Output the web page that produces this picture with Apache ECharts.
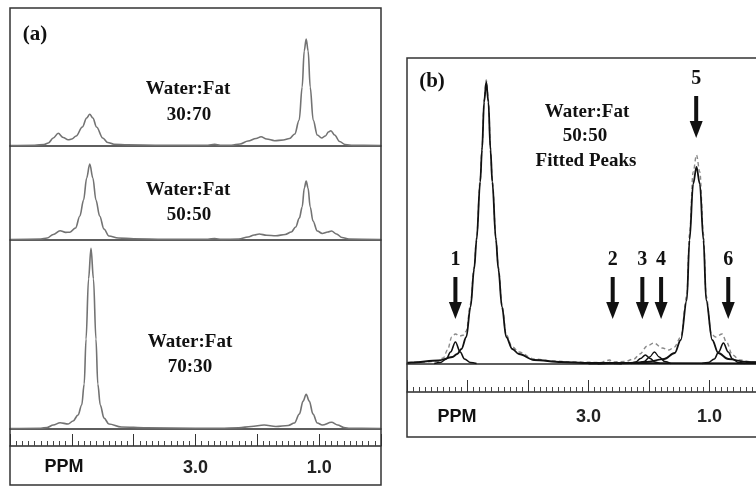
<!DOCTYPE html>
<html>
<head>
<meta charset="utf-8">
<script src="https://cdn.jsdelivr.net/npm/echarts@6/dist/echarts.min.js"></script>
<style>
  html, body { margin: 0; padding: 0; background: #fff; }
  #main { width: 756px; height: 487px; }
</style>
</head>
<body>
<div id="main"></div>
<script>
// spectra as [ppm, signal]; signal in arbitrary units above baseline
const spec3070 = [[6.0, 0.5], [5.6, 0.8], [5.45, 1.5], [5.38, 3], [5.3, 8], [5.22, 12.7], [5.14, 8.5], [5.06, 6.2], [5.0, 7], [4.93, 10], [4.83, 19], [4.76, 28], [4.71, 31.7], [4.66, 28], [4.6, 19], [4.5, 8], [4.42, 3.5], [4.32, 1.8], [4.1, 1.1], [3.6, 0.8], [3.0, 0.6], [2.8, 0.8], [2.69, 1.6], [2.6, 0.7], [2.42, 0.8], [2.28, 2], [2.15, 5], [2.02, 7.5], [1.94, 9.3], [1.85, 7], [1.72, 5.3], [1.58, 6], [1.48, 7.5], [1.395, 12], [1.323, 26], [1.275, 59], [1.242, 95], [1.21, 107], [1.178, 95], [1.145, 59], [1.097, 26], [1.03, 11], [0.96, 8], [0.9, 10], [0.85, 14], [0.81, 15.3], [0.75, 11], [0.67, 4.5], [0.58, 1.5], [0.45, 0.6], [0.0, 0.5]];
const spec5050 = [[6.0, 0.5], [5.5, 1], [5.4, 2], [5.3, 5.5], [5.19, 9.3], [5.1, 7.6], [5.03, 7.8], [4.94, 12], [4.87, 24], [4.81, 40], [4.76, 62], [4.71, 76], [4.66, 62], [4.61, 40], [4.55, 24], [4.48, 11], [4.4, 4], [4.25, 2], [4.0, 1.2], [3.5, 0.8], [2.8, 0.8], [2.69, 1.4], [2.58, 0.6], [2.3, 0.9], [2.15, 3], [2.05, 5], [1.97, 6], [1.85, 4.8], [1.7, 4.2], [1.55, 5.5], [1.45, 8], [1.38, 13], [1.32, 22], [1.275, 33], [1.24, 52], [1.21, 59], [1.18, 52], [1.145, 33], [1.1, 19], [1.03, 9], [0.95, 6.5], [0.86, 8], [0.8, 9], [0.72, 6], [0.63, 2.5], [0.52, 1], [0.0, 0.5]];
const spec7030 = [[6.0, 0.5], [5.5, 0.8], [5.4, 1.5], [5.3, 4], [5.19, 6.3], [5.06, 5], [4.98, 8], [4.9, 14], [4.84, 24], [4.8, 45], [4.77, 90], [4.73, 150], [4.69, 180.7], [4.65, 150], [4.61, 90], [4.58, 45], [4.54, 24], [4.48, 11], [4.4, 5], [4.2, 2], [3.8, 1.2], [3.0, 0.8], [2.6, 0.8], [2.3, 1.2], [2.1, 2.5], [1.89, 4], [1.7, 2.5], [1.5, 3.5], [1.4, 6], [1.32, 15], [1.26, 28], [1.21, 34.7], [1.16, 28], [1.1, 15], [1.03, 6], [0.95, 4], [0.8, 6.7], [0.7, 4], [0.6, 1.5], [0.5, 0.6], [0.0, 0.5]];

// panel (b): measured 50:50 spectrum and the fitted peaks
const measured = [[6.0, 1.5], [5.7, 2], [5.5, 3], [5.4, 6], [5.33, 14], [5.26, 27], [5.2, 30], [5.13, 28], [5.06, 29], [5.02, 33], [4.95, 60], [4.89, 97], [4.85, 126], [4.79, 184], [4.76, 216], [4.725, 264], [4.69, 284], [4.655, 264], [4.62, 216], [4.59, 184], [4.53, 126], [4.49, 97], [4.43, 59], [4.36, 29], [4.26, 17], [4.15, 12], [3.9, 5], [3.6, 3], [3.2, 2], [2.8, 1.5], [2.7, 3.5], [2.65, 4], [2.6, 2], [2.4, 2.5], [2.25, 5], [2.15, 10], [2.03, 18], [1.92, 21], [1.78, 16], [1.67, 14], [1.58, 17], [1.475, 27], [1.375, 68], [1.33, 130], [1.27, 192], [1.215, 209], [1.16, 192], [1.1, 130], [1.055, 68], [0.97, 30], [0.9, 27], [0.79, 30], [0.72, 22], [0.62, 9], [0.5, 4], [0.3, 2], [0.0, 1.5]];
const fitWater = [[6.0, 1], [5.93, 1.5], [5.48, 3.5], [5.25, 7], [5.17, 10], [5.1, 15], [5.02, 27], [4.95, 57], [4.89, 95], [4.85, 124], [4.79, 182], [4.76, 214], [4.725, 262], [4.69, 282], [4.655, 262], [4.62, 214], [4.59, 182], [4.53, 124], [4.49, 95], [4.43, 57], [4.36, 27], [4.26, 15], [4.15, 10], [3.9, 4], [3.45, 2], [3.0, 1], [0.0, 0.5]];
const fitPeak1 = [[5.55, 0.5], [5.45, 1.5], [5.35, 5], [5.28, 12], [5.2, 22], [5.12, 12], [5.05, 5], [4.95, 1.5], [4.85, 0.5]];
const fitPeak2 = [[2.85, 0], [2.75, 0.5], [2.65, 1.5], [2.55, 0.5], [2.45, 0]];
const fitPeak3 = [[2.3, 0.3], [2.22, 2], [2.14, 5.5], [2.06, 9], [1.98, 5.5], [1.9, 2], [1.82, 0.3]];
const fitPeak4 = [[2.18, 0.3], [2.08, 2.5], [1.99, 7], [1.91, 12], [1.83, 7], [1.74, 2.5], [1.64, 0.3]];
const fitPeak5 = [[3.0, 0.5], [2.3, 1], [2.05, 2], [1.75, 5], [1.575, 11], [1.475, 24], [1.375, 64], [1.33, 124], [1.27, 180], [1.215, 197], [1.16, 180], [1.1, 124], [1.055, 64], [0.955, 24], [0.855, 11], [0.69, 5], [0.385, 2], [0.0, 1]];
const fitPeak6 = [[1.12, 0.5], [1.02, 1.5], [0.92, 5], [0.85, 12], [0.77, 21], [0.69, 12], [0.62, 5], [0.52, 1.5], [0.42, 0.5]];

const arrowNames = ['1', '2', '3', '4', '5', '6'];
const arrowPpm = [5.20, 2.60, 2.11, 1.80, 1.22, 0.69];
const arrowTip = [45, 45, 45, 45, 226, 45];

const labelledPpm = [3, 1];

const serif = '"Liberation Serif", "Times New Roman", serif';
const sans = '"Liberation Sans", Arial, sans-serif';

const chart = echarts.init(document.getElementById('main'));

const grids = [
  { left: 10, top: 8, width: 371, height: 138 },
  { left: 10, top: 146, width: 371, height: 94 },
  { left: 10, top: 240, width: 371, height: 189 },
  { left: 10, top: 429, width: 371, height: 17 },
  { left: 407, top: 58, width: 363, height: 306 },
  { left: 407, top: 364, width: 363, height: 28 }
];
const yMax = [138, 94, 189, 1, 306, 1];
const scaleGrid = [3, 5];

const xAxes = grids.map((g, i) => {
  const isScale = scaleGrid.includes(i);
  return {
    type: 'value', gridIndex: i, min: 0, max: 6, interval: 1, inverse: true,
    axisLine: { show: true, onZero: false, lineStyle: { color: '#2a2a2a', width: 1.5 } },
    axisTick: { show: isScale, inside: true, length: 12, lineStyle: { color: '#333', width: 1 } },
    minorTick: { show: isScale, splitNumber: 10, length: 5, lineStyle: { color: '#444', width: 1 } },
    axisLabel: {
      show: isScale, margin: i === 3 ? 13 : 16, color: '#222', fontSize: 18, fontWeight: 'bold', fontFamily: sans,
      formatter: v => labelledPpm.includes(v) ? v.toFixed(1) : ''
    },
    splitLine: { show: false }
  };
});
const yAxes = grids.map((g, i) => ({ type: 'value', gridIndex: i, min: 0, max: yMax[i], show: false }));

function spectrum(data, idx, color, width, dashed, z) {
  return {
    type: 'line', data: data, xAxisIndex: idx, yAxisIndex: idx,
    showSymbol: false, smooth: 0.35, smoothMonotone: 'x', silent: true, z: z || 2,
    lineStyle: { color: color, width: width, type: dashed ? [4, 3] : 'solid' }
  };
}

function renderArrow(params, api) {
  const tip = api.coord([api.value(0), api.value(1)]);
  const x = tip[0], y = tip[1];
  return {
    type: 'group',
    children: [
      { type: 'rect', shape: { x: x - 2, y: y - 42, width: 4, height: 27 }, style: { fill: '#111' } },
      { type: 'polygon', shape: { points: [[x - 6.5, y - 17], [x + 6.5, y - 17], [x, y]] }, style: { fill: '#111' } },
      { type: 'text', style: { text: arrowNames[params.dataIndex], x: x, y: y - 59, align: 'center', verticalAlign: 'middle', font: 'bold 20px ' + serif, fill: '#111' } }
    ]
  };
}

const specColor = '#737373';
const series = [
  spectrum(spec3070, 0, specColor, 1.6),
  spectrum(spec5050, 1, specColor, 1.6),
  spectrum(spec7030, 2, specColor, 1.6),
  spectrum(measured, 4, '#8a8a8a', 1.4, true, 1),
  spectrum(fitWater, 4, '#111', 1.8),
  spectrum(fitPeak1, 4, '#111', 1.6),
  spectrum(fitPeak2, 4, '#111', 1.4),
  spectrum(fitPeak3, 4, '#111', 1.4),
  spectrum(fitPeak4, 4, '#111', 1.4),
  spectrum(fitPeak5, 4, '#111', 1.8),
  spectrum(fitPeak6, 4, '#111', 1.6),
  {
    type: 'custom', xAxisIndex: 4, yAxisIndex: 4, silent: true, z: 5,
    renderItem: renderArrow,
    data: arrowPpm.map((p, i) => [p, arrowTip[i]])
  }
];

function label(text, x, y, font) {
  return { type: 'text', x: x, y: y, z: 10, silent: true,
    style: { text: text, font: font, fill: '#111', align: 'center', verticalAlign: 'middle' } };
}
const bigSerif = 'bold 19px ' + serif;

chart.setOption({
  animation: false,
  backgroundColor: '#fff',
  grid: grids.map(g => Object.assign({ containLabel: false, outerBoundsMode: 'none' }, g)),
  xAxis: xAxes,
  yAxis: yAxes,
  series: series,
  graphic: [
    { type: 'rect', z: 9, silent: true, shape: { x: 10, y: 8, width: 371, height: 477 }, style: { fill: 'none', stroke: '#333', lineWidth: 1.5 } },
    { type: 'rect', z: 9, silent: true, shape: { x: 407, y: 58, width: 370, height: 379 }, style: { fill: 'none', stroke: '#333', lineWidth: 1.5 } },
    label('(a)', 35, 35, 'bold 21px ' + serif),
    label('Water:Fat', 188, 89, bigSerif),
    label('30:70', 189, 115, bigSerif),
    label('Water:Fat', 188, 190, bigSerif),
    label('50:50', 189, 215, bigSerif),
    label('Water:Fat', 190, 342, bigSerif),
    label('70:30', 190, 367, bigSerif),
    label('PPM', 64, 467, 'bold 18px ' + sans),
    label('(b)', 432, 82, 'bold 21px ' + serif),
    label('Water:Fat', 587, 112, bigSerif),
    label('50:50', 585, 136, bigSerif),
    label('Fitted Peaks', 586, 161, bigSerif),
    label('PPM', 457, 417, 'bold 18px ' + sans)
  ]
});
</script>
</body>
</html>
